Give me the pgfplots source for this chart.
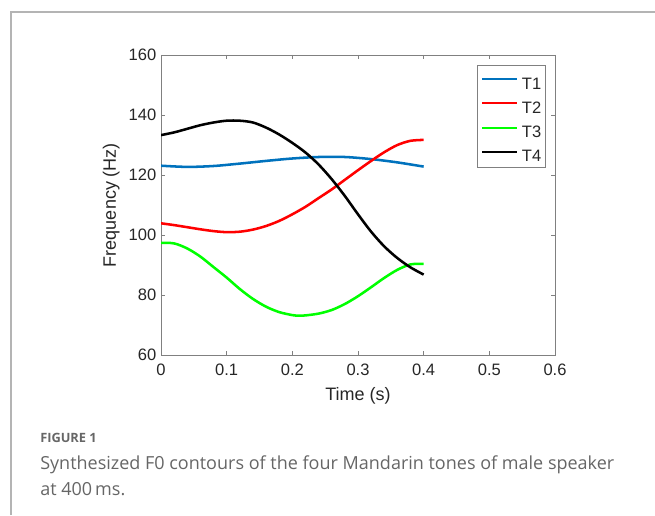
\documentclass[border=0pt]{standalone}
\usepackage{pgfplots}
\pgfplotsset{compat=1.18}
\usepackage{fontspec}
\setmainfont{Liberation Sans}
\newfontfamily\capfont{Open Sans}
\definecolor{mblue}{HTML}{0072BD}
\definecolor{axgray}{HTML}{808080}
\definecolor{txt}{HTML}{262626}
\definecolor{capgray}{HTML}{666666}
\definecolor{framegray}{HTML}{B4B4B4}
\begin{document}
\begin{tikzpicture}
\path[use as bounding box] (0pt,0pt) rectangle (491.25pt,386.25pt);
\draw[framegray, line width=1.1pt] (8.25pt,0pt) -- (8.25pt,377.25pt) -- (491.25pt,377.25pt);
\begin{axis}[
  at={(120.75pt,120pt)}, anchor=south west,
  scale only axis, width=295.5pt, height=225pt,
  xmin=0, xmax=0.6, ymin=60, ymax=160,
  xtick={0,0.1,0.2,0.3,0.4,0.5,0.6},
  ytick={60,80,100,120,140,160},
  xticklabels={0,0.1,0.2,0.3,0.4,0.5,0.6},
  tick align=inside, major tick length=3.2pt,
  axis line style={axgray, line width=0.6pt},
  every tick/.style={axgray, line width=0.6pt},
  tick label style={font=\fontsize{12.4}{14}\selectfont, text=txt},
  xticklabel style={yshift=-3.5pt},
  /pgf/number format/assume math mode=true,
  xlabel={Time (s)}, ylabel={Frequency (Hz)},
  label style={font=\fontsize{13.5}{15}\selectfont, text=txt},
  xlabel style={yshift=-2pt},
  legend style={at={(rel axis cs:1,1)}, anchor=north east, xshift=-7pt, yshift=-7.5pt,
    draw=axgray, line width=0.6pt, font=\fontsize{12.4}{13}\selectfont, text=txt,
    inner xsep=3pt, inner ysep=4.3pt, row sep=4.7pt,
    nodes={inner sep=0pt, text height=9pt, text depth=0pt},
    /tikz/every odd column/.style={column sep=3pt}},
  legend cell align=left,
  legend image code/.code={\path[draw=none, fill=none] (0pt,-4.5pt) rectangle (26pt,9pt);
    \draw[#1, line width=1.5pt] (0pt,3pt) -- (26pt,3pt);},
  every axis plot/.append style={line width=1.9pt, smooth},
]
\addplot[mblue] coordinates {(0,123.1) (0.04,122.7) (0.08,123.0) (0.12,123.8) (0.16,124.7) (0.2,125.5) (0.24,126.0) (0.28,126.0) (0.32,125.3) (0.36,124.2) (0.4,122.8)};
\addlegendentry{T1}
\addplot[red] coordinates {(0,103.9) (0.02,103.3) (0.04,102.6) (0.06,101.9) (0.08,101.3) (0.1,100.95) (0.12,101.1) (0.14,101.8) (0.16,103.0) (0.18,104.7) (0.2,106.9) (0.22,109.4) (0.24,112.3) (0.26,115.2) (0.28,118.4) (0.3,121.6) (0.32,124.7) (0.34,127.6) (0.36,130.0) (0.38,131.4) (0.4,131.7)};
\addlegendentry{T2}
\addplot[green] coordinates {(0,97.4) (0.02,97.2) (0.04,95.5) (0.06,92.8) (0.08,89.3) (0.1,85.8) (0.12,82.0) (0.14,78.7) (0.16,76.1) (0.18,74.3) (0.2,73.3) (0.21,73.1) (0.22,73.2) (0.24,73.8) (0.26,75.0) (0.28,77.0) (0.3,79.6) (0.32,82.6) (0.34,85.7) (0.36,88.4) (0.38,90.2) (0.4,90.4)};
\addlegendentry{T3}
\addplot[black] coordinates {(0,133.3) (0.02,134.2) (0.04,135.4) (0.06,136.6) (0.08,137.5) (0.1,138.1) (0.12,138.1) (0.14,137.5) (0.16,135.8) (0.18,133.5) (0.2,130.7) (0.22,127.5) (0.24,123.5) (0.26,118.6) (0.28,113.0) (0.3,106.9) (0.32,101.1) (0.34,96.2) (0.36,92.3) (0.38,89.2) (0.4,86.8)};
\addlegendentry{T4}
\end{axis}
\node[anchor=base west, inner sep=0pt, text=capgray, font=\capfont\fontsize{9.6}{11}\selectfont\bfseries] at (30pt,54.5pt) {FIGURE 1};
\node[anchor=base west, inner sep=0pt, text=capgray, font=\capfont\fontsize{13.5}{16}\selectfont] at (30pt,34.5pt) {Synthesized F0 contours of the four Mandarin tones of male speaker};
\node[anchor=base west, inner sep=0pt, text=capgray, font=\capfont\fontsize{13.5}{16}\selectfont] at (30pt,15pt) {at 400\,ms.};
\end{tikzpicture}
\end{document}
